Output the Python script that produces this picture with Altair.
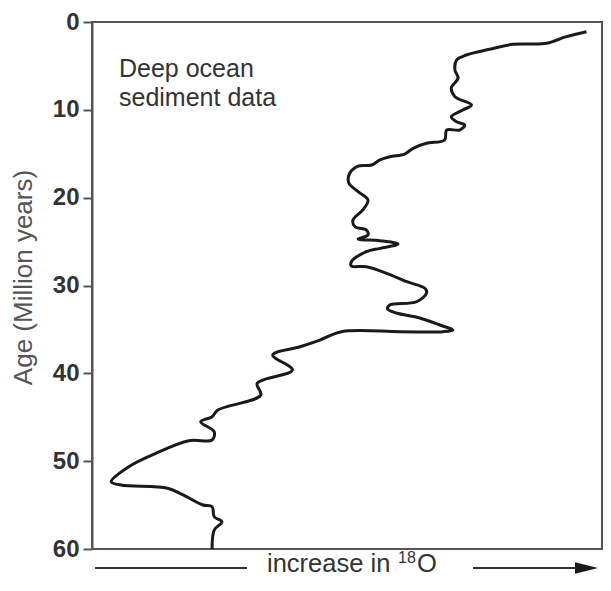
import altair as alt
import pandas as pd

# Age (million years) and relative 18O increase (0-100, arbitrary units), traced top to bottom
ages = [1.10, 1.67, 2.43, 2.54, 3.11, 3.76, 4.33, 5.47, 6.38, 7.51, 8.50, 9.45, 10.02,
        10.78, 11.35, 11.73, 12.30, 12.30, 13.43, 13.81, 14.38, 15.03, 15.34, 15.71,
        16.28, 16.40, 17.19, 18.33, 19.32, 20.27, 21.40, 22.54, 23.31, 23.68, 24.25,
        24.71, 24.90, 25.28, 25.77, 26.15, 27.29, 27.78, 27.86, 28.61, 29.57, 30.32,
        30.86, 31.85, 32.22, 32.68, 33.13, 33.70, 34.50, 35.07, 35.26, 35.26, 35.26,
        36.21, 36.97, 37.91, 39.62, 41.14, 42.47, 44.18, 44.94, 45.51, 46.65, 47.59,
        47.67, 49.11, 50.63, 52.34, 52.72, 53.09, 53.85, 54.99, 55.19, 56.33, 56.89,
        57.84, 60.0]
o18 = [95.5, 91.6, 87.8, 81.3, 76.8, 72.3, 70.4, 70.1, 70.7, 69.4, 70.1, 73.3, 71.6,
       69.4, 70.4, 72.0, 71.0, 68.5, 68.1, 64.6, 62.0, 60.4, 57.5, 55.6,
       54.0, 51.4, 49.8, 49.6, 51.4, 53.3, 52.3, 50.4, 50.8, 53.0, 53.3,
       51.4, 55.6, 59.1, 55.6, 53.0, 50.1, 50.1, 53.0, 56.9, 60.8, 64.3,
       64.6, 62.7, 57.5, 57.1, 58.8, 63.3, 67.2, 69.7, 67.8, 59.5, 48.2,
       44.0, 40.2, 34.9, 38.7, 31.9, 32.6, 24.3, 23.2, 21.0, 23.6, 23.2,
       18.7, 12.3, 7.1, 3.7, 5.6, 14.6, 17.6, 21.4, 23.2, 23.6, 25.1,
       23.6, 23.2]
tick_values = [0, 10, 20, 30, 40, 50, 60]
annotation_lines = ["Deep ocean", "sediment data"]
axis_title = "Age (Million years)"
xlabel_main = "increase in"
xlabel_sup = "18"
xlabel_end = "O"

FONT = "Liberation Sans"
W, H = 510, 527

df = pd.DataFrame({"order": list(range(len(ages))), "age": ages, "o18": o18})
one = pd.DataFrame({"k": [0]})

x = alt.X("o18:Q", scale=alt.Scale(domain=[0, 98.5], nice=False, zero=False), axis=None)
y = alt.Y(
    "age:Q",
    scale=alt.Scale(domain=[0, 60], reverse=True, nice=False, zero=False),
    axis=alt.Axis(
        values=tick_values, title=axis_title, grid=False,
        labelFont=FONT, labelFontSize=24, labelFontWeight="bold", labelColor="#333",
        labelPadding=4, tickSize=9, tickWidth=2, tickColor="#555",
        domainColor="#555", domainWidth=2,
        titleFont=FONT, titleFontSize=26, titleFontWeight="normal", titleColor="#555",
        titleAngle=270, titleAlign="center", titleBaseline="middle",
        titleX=-69, titleY=255,
    ),
)

line = alt.Chart(df).mark_line(
    color="#1a1a1a", strokeWidth=3, interpolate="catmull-rom", clip=True
).encode(x=x, y=y, order="order:Q")

ann = alt.Chart(one).mark_text(
    text=annotation_lines, align="left", baseline="alphabetic", font=FONT,
    fontSize=25, lineHeight=29, color="#333"
).encode(x=alt.value(27), y=alt.value(55))

YB = 550  # baseline of bottom label (plot coordinates)
lbl1 = alt.Chart(one).mark_text(
    text=xlabel_main, align="left", baseline="alphabetic", font=FONT,
    fontSize=25.5, color="#333"
).encode(x=alt.value(175), y=alt.value(YB))
lbl2 = alt.Chart(one).mark_text(
    text=xlabel_sup, align="left", baseline="alphabetic", font=FONT,
    fontSize=16, color="#333"
).encode(x=alt.value(306), y=alt.value(YB - 9))
lbl3 = alt.Chart(one).mark_text(
    text=xlabel_end, align="left", baseline="alphabetic", font=FONT,
    fontSize=25.5, color="#333"
).encode(x=alt.value(325), y=alt.value(YB))

rule_left = alt.Chart(one).mark_rule(color="#333", strokeWidth=2).encode(
    x=alt.value(3), x2=alt.value(155), y=alt.value(YB - 4))
rule_right = alt.Chart(one).mark_rule(color="#333", strokeWidth=2).encode(
    x=alt.value(381), x2=alt.value(490), y=alt.value(YB - 4))
arrow = alt.Chart(one).mark_point(
    shape="M -1 -0.5 L 1 0 L -1 0.5 Z", filled=True, size=529, color="#1a1a1a", opacity=1
).encode(x=alt.value(494.5), y=alt.value(YB - 4))

chart = alt.layer(line, ann, lbl1, lbl2, lbl3, rule_left, rule_right, arrow).properties(
    width=W, height=H,
    padding={"left": 84, "top": 14, "right": 1, "bottom": 30},
    autosize=alt.AutoSizeParams(type="none"),
    background="white",
).configure_view(stroke="#555", strokeWidth=2)

chart.save("out.html", embed_options={"renderer": "svg", "actions": False})
